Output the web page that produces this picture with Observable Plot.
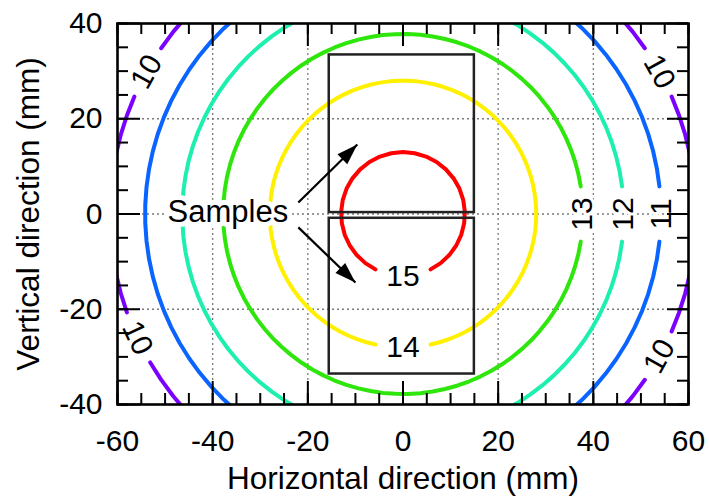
<!DOCTYPE html>
<html>
<head>
<meta charset="utf-8">
<script src="https://cdn.jsdelivr.net/npm/d3@7"></script>
<script src="https://cdn.jsdelivr.net/npm/@observablehq/plot@0.6"></script>
<style>
  html, body { margin: 0; padding: 0; background: #fff; }
  #chart svg { display: block; }
</style>
</head>
<body>
<div id="chart"></div>
<script>
// Contour levels and the radius (mm) of each contour around the field centre
const levels = [10, 11, 12, 13, 14, 15];
const radii = [61.6, 54.2, 46.4, 37.8, 28.0, 13.0];
const levelColors = ["#7a00ff", "#0a64ff", "#1cefae", "#2ee60c", "#fff000", "#ff0000"];

// Contour labels: which level, and the polar angle (deg) where it sits on the contour
const labelLevels = [10, 10, 10, 10, 11, 12, 13, 14, 15];
const labelAngles = [151, 29, 205, 331, 0, 0, 0, 270, 270];

// The two samples (mm)
const sampleX1 = [-15.5, -15.5];
const sampleX2 = [15, 15];
const sampleY1 = [0.3, -33.6];
const sampleY2 = [33.4, -0.9];

// "Samples" callout and its two arrows (mm)
const calloutText = ["Samples"];
const calloutX = [-36.8];
const calloutY = [0.3];
const arrowX1 = [-22, -22];
const arrowY1 = [2.4, -2.8];
const arrowX2 = [-9.6, -10];
const arrowY2 = [14.6, -14.4];

// Axes
const xTicks = [-60, -40, -20, 0, 20, 40, 60];
const yTicks = [-40, -20, 0, 20, 40];
const xGrid = [-40, -20, 20, 40];
const yGrid = [-20, 0, 20];
const xMinor = d3.range(-60, 61, 5);
const yMinor = d3.range(-40, 41, 5);
const xTitle = "Horizontal direction (mm)";
const yTitle = "Vertical direction (mm)";

// ---- layout ----
const W = 709, H = 496;
const mL = 117, mR = 21, mT = 23, mB = 92;
const innerW = W - mL - mR;
const innerH = H - mT - mB;
const majorLen = 23, minorLen = 11;
const font = "'Liberation Sans', Arial, Helvetica, sans-serif";
const gapHalf = 5.8; // mm of contour left open on each side of a label

// Contour polylines, opened where labels sit
const contourPts = [];
levels.forEach((lv, i) => {
  const r = radii[i];
  const h = Math.asin(Math.min(1, gapHalf / r)) * 180 / Math.PI;
  const gaps = labelAngles
    .filter((a, j) => labelLevels[j] === lv)
    .map(a => [a - h, a + h])
    .sort((a, b) => a[0] - b[0]);
  const step = lv === 15 ? 11 : 4;
  gaps.forEach((g, k) => {
    const start = g[1];
    const end = k + 1 < gaps.length ? gaps[k + 1][0] : gaps[0][0] + 360;
    const n = Math.max(1, Math.ceil((end - start) / step));
    for (let s = 0; s <= n; s++) {
      const a = (start + (end - start) * s / n) * Math.PI / 180;
      contourPts.push({level: lv, arc: lv + "-" + k, x: r * Math.cos(a), y: r * Math.sin(a)});
    }
  });
});

// Label anchors on the contours, text turned along the line
const labels = labelLevels.map((lv, j) => {
  const r = radii[levels.indexOf(lv)];
  const a = labelAngles[j] * Math.PI / 180;
  let rot = ((90 - labelAngles[j]) % 180 + 180) % 180;
  if (rot >= 90) rot -= 180;
  return {level: lv, x: r * Math.cos(a), y: r * Math.sin(a), rotate: rot};
});

const samples = sampleX1.map((d, i) => ({x1: sampleX1[i], x2: sampleX2[i], y1: sampleY1[i], y2: sampleY2[i]}));
const arrows = arrowX1.map((d, i) => ({
  x1: arrowX1[i], y1: arrowY1[i], x2: arrowX2[i], y2: arrowY2[i],
  angle: Math.atan2(arrowX2[i] - arrowX1[i], arrowY2[i] - arrowY1[i]) * 180 / Math.PI
}));
const callout = calloutText.map((t, i) => ({text: t, x: calloutX[i], y: calloutY[i]}));

// Filled arrowhead with its tip at the origin, pointing up
const arrowHead = {
  draw(context) {
    context.moveTo(0, 0);
    context.lineTo(7, 21);
    context.lineTo(-7, 21);
    context.closePath();
  }
};

const tickStyle = {stroke: "black", strokeWidth: 2};

const chart = Plot.plot({
  width: W,
  height: H,
  marginLeft: mL,
  marginRight: mR,
  marginTop: mT,
  marginBottom: mB,
  x: {domain: [-60, 60]},
  y: {domain: [-40, 40]},
  color: {type: "ordinal", domain: levels, range: levelColors},
  style: {fontFamily: font, background: "white", color: "black"},
  marks: [
    Plot.ruleX(xGrid, {x: d => d, stroke: "#7a7a7a", strokeWidth: 1.3, strokeDasharray: "2,3"}),
    Plot.ruleY(yGrid, {y: d => d, stroke: "#7a7a7a", strokeWidth: 1.3, strokeDasharray: "2,3"}),
    Plot.line(contourPts, {x: "x", y: "y", z: "arc", stroke: "level", strokeWidth: 4, curve: "linear", clip: true}),
    Plot.rect(samples, {x1: "x1", x2: "x2", y1: "y1", y2: "y2", fill: "none", stroke: "#222", strokeWidth: 2.5}),
    Plot.text(callout, {x: "x", y: "y", text: "text", fontSize: 31, fill: "black", stroke: "white", strokeWidth: 10, strokeLinejoin: "round"}),
    Plot.text(labels, {x: "x", y: "y", text: d => String(d.level), rotate: "rotate", fontSize: 30, fill: "black", stroke: "white", strokeWidth: 6, strokeLinejoin: "round"}),
    Plot.link(arrows, {x1: "x1", y1: "y1", x2: "x2", y2: "y2", stroke: "black", strokeWidth: 2.2}),
    Plot.dot(arrows, {x: "x2", y: "y2", symbol: arrowHead, rotate: "angle", fill: "black", stroke: "none"}),
    // inward ticks on all four sides
    Plot.tickX(xMinor, {x: d => d, insetTop: innerH - minorLen, ...tickStyle}),
    Plot.tickX(xMinor, {x: d => d, insetBottom: innerH - minorLen, ...tickStyle}),
    Plot.tickX(xTicks, {x: d => d, insetTop: innerH - majorLen, ...tickStyle}),
    Plot.tickX(xTicks, {x: d => d, insetBottom: innerH - majorLen, ...tickStyle}),
    Plot.tickY(yMinor, {y: d => d, insetRight: innerW - minorLen, ...tickStyle}),
    Plot.tickY(yMinor, {y: d => d, insetLeft: innerW - minorLen, ...tickStyle}),
    Plot.tickY(yTicks, {y: d => d, insetRight: innerW - majorLen, ...tickStyle}),
    Plot.tickY(yTicks, {y: d => d, insetLeft: innerW - majorLen + 2, ...tickStyle}),
    Plot.frame({stroke: "black", strokeWidth: 2.6}),
    Plot.axisX(xTicks, {tickSize: 0, tickPadding: 25, fontSize: 30, tickFormat: d => String(d), label: null}),
    Plot.axisY(yTicks, {tickSize: 0, tickPadding: 15, fontSize: 30, tickFormat: d => String(d), label: null}),
    Plot.text([xTitle], {text: d => d, frameAnchor: "bottom", dy: 74, textAnchor: "middle", lineAnchor: "middle", fontSize: 31.5, fill: "black"}),
    Plot.text([yTitle], {text: d => d, frameAnchor: "left", dx: -89, rotate: -90, textAnchor: "middle", lineAnchor: "middle", fontSize: 31.5, fill: "black"})
  ]
});

document.getElementById("chart").appendChild(chart);
</script>
</body>
</html>
